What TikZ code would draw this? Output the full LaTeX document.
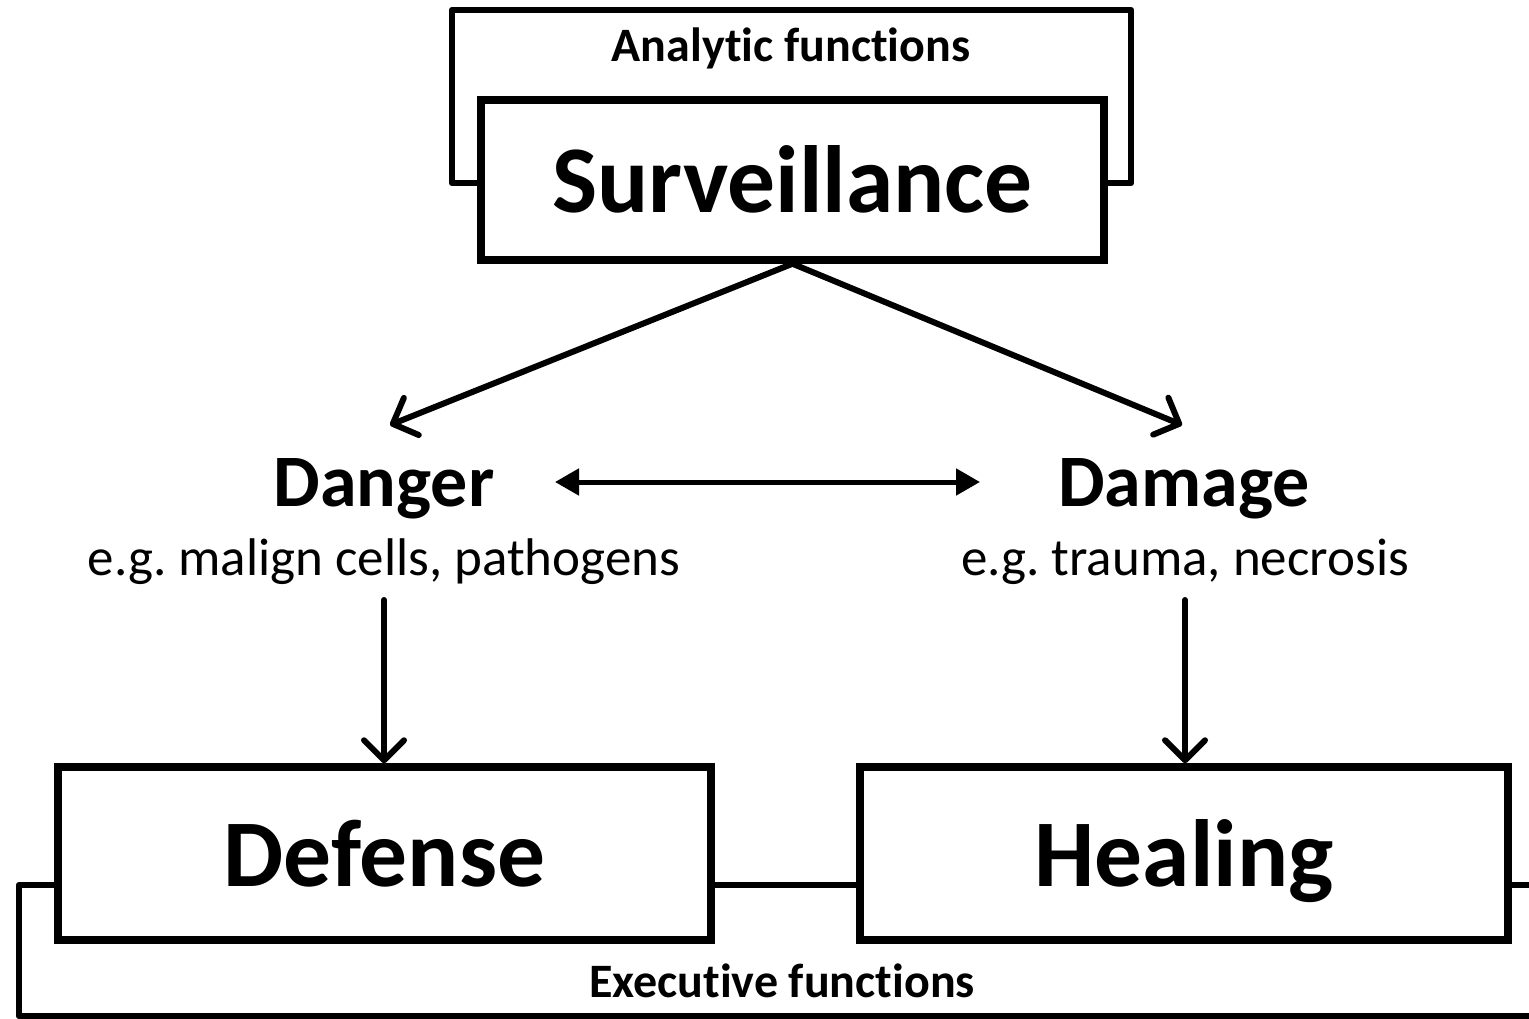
\documentclass[tikz,border=0pt]{standalone}
\usepackage{fontspec}
\setmainfont[Ligatures=NoCommon]{Carlito}
\usetikzlibrary{arrows.meta}
\tikzset{
  bigbox/.style={draw, line width=7.5pt, inner sep=0pt, text height=65pt, text depth=0pt, font=\bfseries\fontsize{95.5}{95.5}\selectfont},
  headtxt/.style={inner sep=0pt, anchor=base, font=\bfseries\fontsize{74}{74}\selectfont},
  subtxt/.style={inner sep=0pt, anchor=base, font=\fontsize{53}{53}\selectfont},
  smalltxt/.style={inner sep=0pt, anchor=base, font=\bfseries\fontsize{48}{48}\selectfont},
  frameline/.style={line width=6.5pt, line join=round, line cap=round},
  barb/.style={line width=6pt, line cap=round, -{Straight Barb[length=20pt, width=40pt, line cap=round, line join=round]}},
  tri/.style={line width=5pt, {Triangle[length=24pt, width=26pt]}-{Triangle[length=24pt, width=26pt]}}
}
\begin{document}
\frenchspacing
\begin{tikzpicture}[x=1pt, y=-1pt]
\useasboundingbox (0,0) rectangle (1529,1019);
\fill[white] (0,0) rectangle (1529,1019);
\clip (0,0) rectangle (1529,1019);
% analytic frame
\node[smalltxt] (ana) at (791,62) {Analytic functions};
\draw[frameline] (481,183) -- (452,183) -- (452,10) -- (1131,10) -- (1131,183) -- (1104,183);
% surveillance
\node[bigbox, minimum width=623pt, minimum height=160pt, fill=white] (surv) at (792.5,180) {Surveillance};
% danger / damage
\node[headtxt] (dang) at (384,506) {Danger};
\node[subtxt] (dangsub) at (384,575) {e.g. malign cells, pathogens};
\node[headtxt] (dam) at (1184,506) {Damage};
\node[subtxt] (damsub) at (1185,575) {e.g. trauma, necrosis};
% defense / healing
\node[bigbox, minimum width=653pt, minimum height=173pt] (def) at (384.5,853.5) {Defense};
\node[bigbox, minimum width=648pt, minimum height=173pt] (heal) at (1184,853.5) {Healing};
% executive frame
\node[smalltxt] (exe) at (782,997) {Executive functions};
\draw[frameline, line cap=butt] (def.west |- 0,885) -- (19,885) -- (19,1016) -- (1545,1016);
\draw[frameline, line cap=butt] (def.east |- 0,885) -- (heal.west |- 0,885);
\draw[frameline, line cap=butt] (heal.east |- 0,885) -- (1545,885);
% arrows
\coordinate (sb) at (surv.south);
\draw[barb] (sb) -- (390,425);
\draw[barb] (sb) -- (1182,425);
\draw[tri] (555,482) -- (980,482);
\draw[barb] (384,600) -- (def.north -| 384,0);
\draw[barb] (1185,600) -- (heal.north -| 1185,0);
\end{tikzpicture}
\end{document}
